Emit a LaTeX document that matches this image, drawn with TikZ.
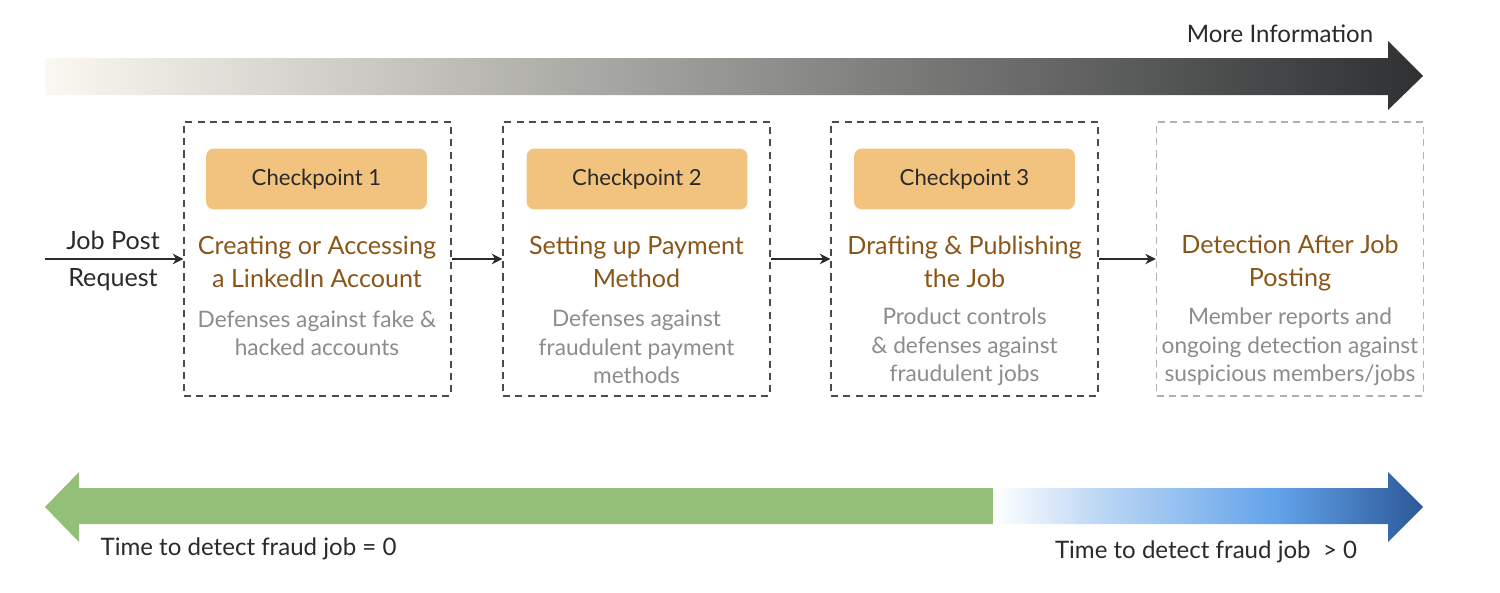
\documentclass[tikz,border=0pt]{standalone}
\usepackage{fontspec}
\setmainfont{Lato}
\usepackage{tikz}
\usetikzlibrary{positioning, arrows.meta}
\definecolor{cardfill}{HTML}{F2C27F}
\definecolor{titlebrown}{HTML}{8A5618}
\definecolor{descgrey}{HTML}{8C8C8C}
\definecolor{boxline}{HTML}{4A4A4A}
\definecolor{laterline}{HTML}{B0B0B0}
\definecolor{infolight}{HTML}{FAF8F0}
\definecolor{infomid}{HTML}{CAC8C1}
\definecolor{infodark}{HTML}{2E3032}
\definecolor{fastgreen}{HTML}{93BF78}
\definecolor{slowlight}{HTML}{BED8F5}
\definecolor{slowmid}{HTML}{62A3EA}
\definecolor{slowdark}{HTML}{2C5897}
\definecolor{inkdark}{HTML}{2A2A2A}
\pgfdeclarehorizontalshading{slowshade}{100bp}{color(0bp)=(white); color(25bp)=(white);
    color(37bp)=(slowlight); color(58bp)=(slowmid); color(75bp)=(slowdark); color(100bp)=(slowdark)}

\begin{document}
\begin{tikzpicture}[x=0.02cm, y=-0.02cm,
    stage/.style={draw=boxline, line width=0.8pt, dash pattern=on 4pt off 3pt,
        minimum width=5.34cm, minimum height=5.48cm},
    checkpoint/.style={fill=cardfill, rounded corners=0.16cm,
        minimum width=4.42cm, minimum height=1.22cm,
        text=inkdark, font=\fontsize{12.6}{15}\selectfont},
    stagetitle/.style={align=center, text=titlebrown, font=\fontsize{14.3}{18.7}\selectfont},
    stagedesc/.style={align=center, text=descgrey, font=\fontsize{12.9}{16.2}\selectfont},
    plain/.style={text=inkdark, font=\fontsize{13.7}{17}\selectfont},
    flow/.style={-{Stealth[length=6pt, width=6pt]}, line width=0.85pt, color=inkdark}]
    \useasboundingbox (0,0) rectangle (1500,592);

    % more information arrow
    \shade [left color=infolight, middle color=infomid, right color=infodark]
        (45,58) -- (1388,58) -- (1388,41) -- (1423,76) -- (1388,110) -- (1388,95) -- (45,95) -- cycle;
    \node (moreinfo) [plain] at (1280,34) {More Information};

    % stages
    \node (stage1) [stage] at (317.5,259) {};
    \node (stage2) [stage] at (636.5,259) {};
    \node (stage3) [stage] at (964.5,259) {};
    \node (stage4) [stage, draw=laterline] at (1290,259) {};

    \node (check1) [checkpoint] at (316.5,179) {Checkpoint 1};
    \node (check2) [checkpoint] at (637,179) {Checkpoint 2};
    \node (check3) [checkpoint] at (964.5,179) {Checkpoint 3};

    \node (title1) [stagetitle] at (317,262) {Creating or Accessing\\a LinkedIn Account};
    \node (title2) [stagetitle] at (636.5,262) {Setting up Payment\\Method};
    \node (title3) [stagetitle] at (964.5,262) {Drafting \& Publishing\\the Job};
    \node (title4) [stagetitle] at (1290,263) {Detection After Job\\Posting};

    \node (desc1) [stagedesc] at (317,333) {Defenses against fake \&\\hacked accounts};
    \node (desc2) [stagedesc] at (636.5,347) {Defenses against\\fraudulent payment\\methods};
    \node (desc3) [stagedesc] at (964.5,347) {Product controls\\\& defenses against\\fraudulent jobs};
    \node (desc4) [stagedesc] at (1290,347) {Member reports and\\ongoing detection against\\suspicious members/jobs};

    % job post request
    \coordinate (start) at (45,259);
    \node (request) [plain, align=center, font=\fontsize{14.3}{21.5}\selectfont] at (113,261) {Job Post\\Request};
    \path [flow]
    (start) edge (stage1)
    (stage1) edge (stage2)
    (stage2) edge (stage3)
    (stage3) edge (stage4);

    % detection time arrows
    \fill [fastgreen] (45,507) -- (79,472) -- (79,488) -- (993,488) -- (993,524) -- (79,524) -- (79,542) -- cycle;
    \shade [shading=slowshade]
        (993,488) -- (1388,488) -- (1388,472) -- (1423,507) -- (1388,542) -- (1388,524) -- (993,524) -- cycle;
    \node (fast) [plain] at (248.5,549) {Time to detect fraud job = 0};
    \node (slow) [plain] at (1206,552) {Time to detect fraud job\ \ > 0};
\end{tikzpicture}
\end{document}
